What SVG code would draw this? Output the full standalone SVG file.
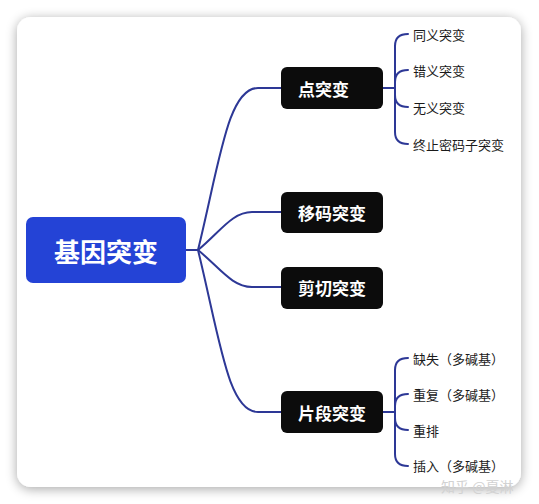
<svg xmlns="http://www.w3.org/2000/svg" width="539" height="504" viewBox="0 0 539 504">
<defs>
<filter id="sh" x="-10%" y="-10%" width="120%" height="120%">
<feGaussianBlur in="SourceAlpha" stdDeviation="6"/>
<feOffset dx="0" dy="2"/>
<feComponentTransfer><feFuncA type="linear" slope="0.35"/></feComponentTransfer>
<feMerge><feMergeNode/><feMergeNode in="SourceGraphic"/></feMerge>
</filter>
</defs>
<style>
.lnk{fill:none;stroke:#2d3896;stroke-width:2;stroke-linecap:round}
.sub{fill:#0c0c0c}
.subt{fill:#ffffff;font-family:"Noto Sans CJK SC","Noto Sans",sans-serif;font-size:17px;font-weight:bold;dominant-baseline:central}
.leaf{fill:#1a1a1a;font-family:"Noto Sans CJK SC","Noto Sans",sans-serif;font-size:13px;dominant-baseline:central}
</style>
<rect x="0" y="0" width="539" height="504" fill="#ffffff"/>
<rect x="17" y="17" width="504" height="470" rx="14" fill="#ffffff" filter="url(#sh)"/>
<g id="connectors">
<path class="lnk" d="M186,250 H198"/>
<path class="lnk" d="M198,250 C220,160 228,88 258,88 H282"/>
<path class="lnk" d="M198,250 C220,232 232,212 252,212 H282"/>
<path class="lnk" d="M198,250 C220,268 232,287 252,287 H282"/>
<path class="lnk" d="M198,250 C220,340 228,412 258,412 H282"/>
<path class="lnk" d="M383,88 H395"/>
<path class="lnk" d="M408,34 C400,34 395,38 395,46 V132 C395,140 400,144 408,144"/>
<path class="lnk" d="M395,82 C395,74 400,70 408,70"/>
<path class="lnk" d="M395,95 C395,103 400,107 408,107"/>
<path class="lnk" d="M383,412 H395"/>
<path class="lnk" d="M408,358 C400,358 395,362 395,370 V454 C395,462 400,466 408,466"/>
<path class="lnk" d="M395,406 C395,398 400,394 408,394"/>
<path class="lnk" d="M395,418 C395,426 400,430 408,430"/>
</g>
<g id="root">
<rect x="26" y="217" width="160" height="66" rx="7" fill="#2443d6"/>
<text x="106" y="250" fill="#ffffff" font-family="Noto Sans CJK SC,Noto Sans,sans-serif" font-size="26" font-weight="bold" text-anchor="middle" dominant-baseline="central">基因突变</text>
</g>
<g id="n-point">
<rect class="sub" x="281" y="67" width="102" height="42" rx="6"/>
<text class="subt" x="298" y="88">点突变</text>
</g>
<g id="n-frameshift">
<rect class="sub" x="281" y="192" width="102" height="41" rx="6"/>
<text class="subt" x="298" y="212">移码突变</text>
</g>
<g id="n-splice">
<rect class="sub" x="281" y="267" width="102" height="42" rx="6"/>
<text class="subt" x="298" y="287">剪切突变</text>
</g>
<g id="n-segment">
<rect class="sub" x="281" y="391" width="102" height="42" rx="6"/>
<text class="subt" x="298" y="412">片段突变</text>
</g>
<g id="leaf-1"><text class="leaf" x="413" y="34">同义突变</text></g>
<g id="leaf-2"><text class="leaf" x="413" y="70">错义突变</text></g>
<g id="leaf-3"><text class="leaf" x="413" y="107">无义突变</text></g>
<g id="leaf-4"><text class="leaf" x="413" y="144">终止密码子突变</text></g>
<g id="leaf-5"><text class="leaf" x="413" y="358">缺失（多碱基）</text></g>
<g id="leaf-6"><text class="leaf" x="413" y="394">重复（多碱基）</text></g>
<g id="leaf-7"><text class="leaf" x="413" y="430">重排</text></g>
<g id="leaf-8"><text class="leaf" x="413" y="465">插入（多碱基）</text></g>
<text x="441" y="486" fill="#d2d2d2" font-family="Noto Sans CJK SC,Noto Sans,sans-serif" font-size="14" dominant-baseline="central">知乎 @夏淋</text>
</svg>
